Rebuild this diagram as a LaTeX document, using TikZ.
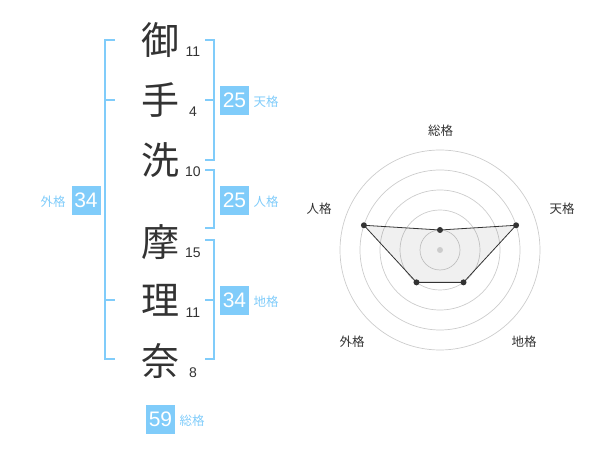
\documentclass[tikz,border=0pt]{standalone}
\usepackage{fontspec}
\setmainfont{Liberation Sans}
\newfontfamily\jp{Noto Sans CJK JP}
\definecolor{kakublue}{RGB}{128,204,250}
\definecolor{inkgray}{RGB}{51,51,51}
\definecolor{ringgray}{RGB}{204,204,204}
\begin{document}
\begin{tikzpicture}[x=1pt,y=-1pt]

\tikzset{
  kanji/.style = { text = inkgray, font = \jp\fontsize{38}{38}\selectfont },
  strokenum/.style = { text = inkgray, font = \fontsize{14}{14}\selectfont },
  score/.style = { fill = kakublue, text = white, minimum size = 29pt,
                   inner sep = 0pt, font = \fontsize{21}{21}\selectfont },
  kakulabel/.style = { text = kakublue, font = \jp\fontsize{12.5}{12.5}\selectfont },
  axislabel/.style = { text = inkgray, font = \jp\fontsize{12.5}{12.5}\selectfont },
  bracket/.style = { draw = kakublue, line width = 2pt },
  ring/.style = { draw = ringgray, line width = 0.7pt },
  vertex/.style = { circle, fill = inkgray, minimum size = 6pt, inner sep = 0pt } }

  \useasboundingbox (0,0) rectangle (600,470);

  \node[kanji] (k1) at (160, 40) {御};
  \node[kanji] (k2) at (160,100) {手};
  \node[kanji] (k3) at (160,160) {洗};
  \node[kanji] (k4) at (160,242) {摩};
  \node[kanji] (k5) at (160,300) {理};
  \node[kanji] (k6) at (160,361) {奈};

  \node[strokenum] (n1) at (193, 52) {11};
  \node[strokenum] (n2) at (193,112) {4};
  \node[strokenum] (n3) at (193,172) {10};
  \node[strokenum] (n4) at (193,253) {15};
  \node[strokenum] (n5) at (193,313) {11};
  \node[strokenum] (n6) at (193,373) {8};

  \draw[bracket] (115,40) -- (105,40) -- (105,359) -- (115,359);
  \draw[bracket] (105,100) -- (115,100);
  \draw[bracket] (105,300) -- (115,300);

  \draw[bracket] (205,40) -- (214,40) -- (214,160) -- (205,160);
  \draw[bracket] (205,100) -- (214,100);
  \draw[bracket] (205,170) -- (214,170) -- (214,228) -- (205,228);
  \draw[bracket] (205,240) -- (214,240) -- (214,359) -- (205,359);
  \draw[bracket] (205,300) -- (214,300);

  \node[score] (ten) at (234.5,100.5) {25};
  \node[score] (jin) at (234.5,200.5) {25};
  \node[score] (chi) at (234.5,300.5) {34};
  \node[score] (gai) at (86,200.5) {34};
  \node[score] (sou) at (160.5,419.5) {59};

  \node[kakulabel] (lten) at (266,102) {天格};
  \node[kakulabel] (ljin) at (266,202) {人格};
  \node[kakulabel] (lchi) at (266,302) {地格};
  \node[kakulabel] (lgai) at (53,202) {外格};
  \node[kakulabel] (lsou) at (192,421) {総格};

  \coordinate (c) at (440,250);
  \draw[ring] (c) circle[radius = 20pt];
  \draw[ring] (c) circle[radius = 40pt];
  \draw[ring] (c) circle[radius = 60pt];
  \draw[ring] (c) circle[radius = 80pt];
  \draw[ring] (c) circle[radius = 100pt];

  \coordinate (p1) at ([shift={(-90:20)}]c);
  \coordinate (p2) at ([shift={(-18:80)}]c);
  \coordinate (p3) at ([shift={(54:40)}]c);
  \coordinate (p4) at ([shift={(126:40)}]c);
  \coordinate (p5) at ([shift={(-162:80)}]c);

  \fill[black, opacity = 0.06] (p1) -- (p2) -- (p3) -- (p4) -- (p5) -- cycle;
  \draw[inkgray, line width = 0.8pt] (p1) -- (p2) -- (p3) -- (p4) -- (p5) -- cycle;

  \node[circle, fill = ringgray, minimum size = 6pt, inner sep = 0pt] (hub) at (c) {};
  \node[vertex] (v1) at (p1) {};
  \node[vertex] (v2) at (p2) {};
  \node[vertex] (v3) at (p3) {};
  \node[vertex] (v4) at (p4) {};
  \node[vertex] (v5) at (p5) {};

  \node[axislabel] (asou) at (440.5,131) {総格};
  \node[axislabel] (aten) at (562,209) {天格};
  \node[axislabel] (ajin) at (319,209) {人格};
  \node[axislabel] (achi) at (524,342) {地格};
  \node[axislabel] (agai) at (352,342) {外格};

\end{tikzpicture}
\end{document}
